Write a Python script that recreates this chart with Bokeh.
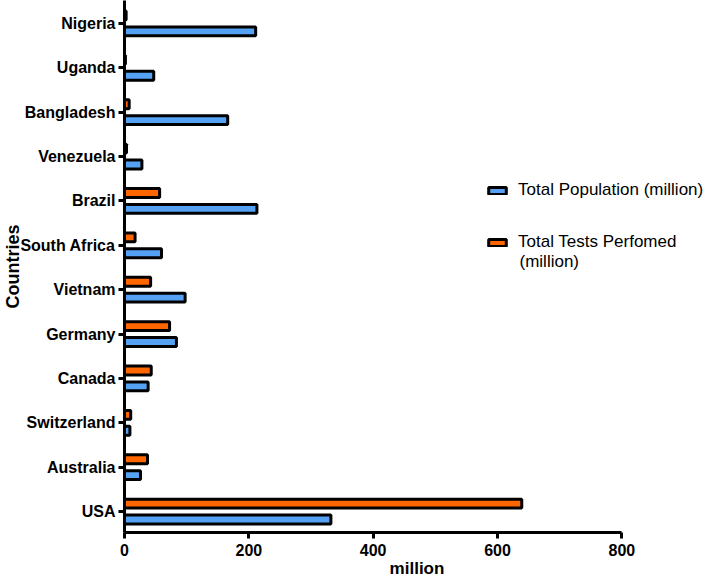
from bokeh.plotting import figure
from bokeh.models import Range1d, FixedTicker, Legend, LegendItem, ColumnDataSource, Label
from bokeh.transform import dodge
from bokeh.embed import file_html
from bokeh.resources import INLINE

# Data (bottom to top)
countries = ["USA", "Australia", "Switzerland", "Canada", "Germany", "Vietnam",
             "South Africa", "Brazil", "Venezuela", "Bangladesh", "Uganda", "Nigeria"]
population = [332, 25.7, 8.7, 38, 83.5, 97.5, 59.5, 213, 28, 166, 47, 211]
tests = [639, 37, 10, 43, 72.5, 42, 17, 56.5, 3.2, 7.5, 1.5, 2.6]
x_ticks = [0, 200, 400, 600, 800]
series_labels = ["Total Population (million)", "Total Tests Perfomed", "(million)"]

positions = list(range(len(countries)))
src = ColumnDataSource(dict(pos=positions, pop=population, tests=tests))

FONT = "Liberation Sans"
BLUE = "#55A2F5"
ORANGE = "#FF6600"

p = figure(width=709, height=580, output_backend="svg", toolbar_location=None,
           x_range=Range1d(0, 941), y_range=Range1d(-0.472, 11.517),
           min_border_left=0, min_border_right=0, min_border_top=0, min_border_bottom=0)

r_pop = p.hbar(y=dodge("pos", -0.18), left=0, right="pop", height=0.2, source=src,
               fill_color=BLUE, line_color="black", line_width=3)
r_tests = p.hbar(y=dodge("pos", 0.18), left=0, right="tests", height=0.2, source=src,
                 fill_color=ORANGE, line_color="black", line_width=3)

p.outline_line_color = None
p.xgrid.visible = False
p.ygrid.visible = False
p.background_fill_color = "white"

# y axis
p.yaxis.ticker = FixedTicker(ticks=positions)
p.yaxis.major_label_overrides = {i: c for i, c in enumerate(countries)}
p.yaxis.axis_label = "Countries"
# x axis
p.xaxis.ticker = FixedTicker(ticks=x_ticks)
p.xaxis.bounds = (0, 800)
p.xaxis.axis_label = "million"

for ax in (p.xaxis, p.yaxis):
    ax.axis_line_width = 3
    ax.axis_line_color = "black"
    ax.major_tick_line_width = 3
    ax.major_tick_out = 6
    ax.major_tick_in = 0
    ax.minor_tick_line_color = None
    ax.major_label_text_font = FONT
    ax.major_label_text_font_style = "bold"
    ax.major_label_text_font_size = "16px"
    ax.major_label_text_color = "black"
    ax.axis_label_text_font = FONT
    ax.axis_label_text_font_style = "bold"
    ax.axis_label_text_font_size = "17px"
    ax.axis_label_text_color = "black"
p.yaxis.axis_label_text_font_size = "18px"
p.yaxis.major_label_standoff = 3
p.yaxis.axis_label_standoff = -6
p.xaxis.major_label_standoff = 5
p.xaxis.axis_label_standoff = 0

legend = Legend(items=[LegendItem(label=series_labels[0], renderers=[r_pop]),
                       LegendItem(label=series_labels[1], renderers=[r_tests])],
                location=(362, 280), orientation="vertical",
                glyph_width=22, glyph_height=9, label_standoff=10, spacing=32,
                padding=0, margin=0, border_line_color=None, background_fill_alpha=0,
                label_text_font=FONT, label_text_font_size="17px", label_text_color="black")
p.add_layout(legend, "center")

p.add_layout(Label(x=395, y=271, x_units="screen", y_units="screen", text=series_labels[2],
                   text_font=FONT, text_font_size="17px", text_color="black",
                   text_baseline="middle", text_align="left"))

open("out.html", "w").write(file_html(p, INLINE))
